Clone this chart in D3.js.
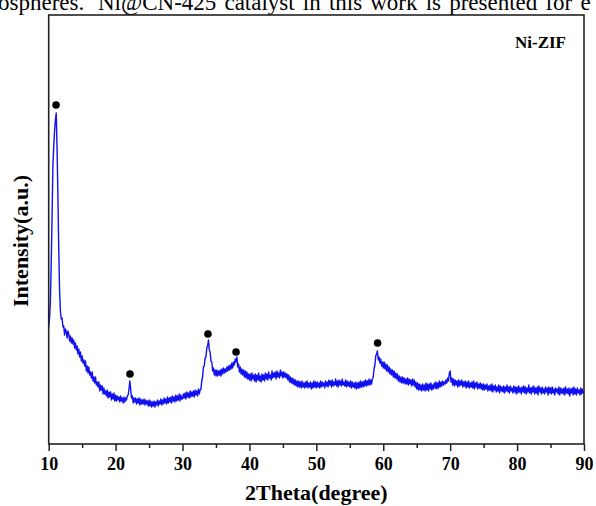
<!DOCTYPE html>
<html>
<head>
<meta charset="utf-8">
<script src="https://cdn.jsdelivr.net/npm/d3@7"></script>
<style>
  html, body { margin: 0; padding: 0; background: #fff; }
  svg { display: block; }
</style>
</head>
<body>
<script>
// XRD pattern of Ni-ZIF, one reading every 0.125 degrees from 10 to 90 (2θ)
const scanStart = 10;
const scanStep = 0.125;
const intensity = [
  // 10 – 14.875
  120, 129, 145, 183, 228, 281, 300, 316, 327, 334, 298, 252, 199, 157, 136, 128, 129, 120, 121, 112,
  118, 115, 109, 116, 113, 106, 111, 104, 109, 103, 107, 99, 104, 97, 101, 93, 98, 90, 95, 86,
  // 15 – 19.875
  91, 84, 87, 81, 86, 76, 81, 74, 80, 72, 75, 69, 75, 66, 70, 64, 70, 62, 65, 60,
  65, 56, 62, 57, 61, 53, 59, 53, 56, 51, 57, 49, 55, 50, 55, 47, 53, 48, 54, 46,
  // 20 – 24.875
  52, 46, 51, 47, 50, 45, 51, 46, 49, 44, 50, 45, 49, 47, 51, 52, 58, 66, 58, 49,
  51, 44, 49, 45, 49, 43, 48, 44, 49, 42, 48, 43, 47, 43, 48, 42, 47, 43, 46, 41,
  // 25 – 29.875
  47, 41, 46, 40, 45, 41, 46, 40, 45, 42, 47, 41, 46, 43, 48, 42, 47, 43, 49, 44,
  48, 43, 50, 44, 49, 45, 50, 44, 51, 46, 50, 45, 52, 46, 51, 47, 53, 46, 52, 48,
  // 30 – 34.875
  48, 53, 49, 54, 48, 55, 50, 54, 49, 56, 50, 55, 51, 56, 50, 57, 52, 56, 51, 58,
  53, 57, 58, 66, 70, 80, 81, 89, 90, 99, 101, 107, 97, 95, 86, 85, 76, 79, 72, 77,
  // 35 – 39.875
  71, 77, 71, 76, 72, 77, 71, 78, 73, 79, 74, 78, 75, 80, 76, 81, 77, 82, 78, 84,
  79, 85, 82, 88, 85, 90, 80, 83, 75, 80, 73, 78, 72, 77, 70, 76, 69, 75, 68, 73,
  // 40 – 44.875
  67, 73, 66, 74, 68, 72, 66, 73, 65, 72, 67, 74, 66, 71, 65, 73, 67, 72, 66, 74,
  68, 73, 67, 75, 69, 72, 67, 76, 69, 74, 70, 75, 68, 76, 70, 74, 69, 77, 71, 75,
  // 45 – 49.875
  69, 75, 70, 74, 69, 73, 67, 72, 65, 70, 64, 69, 63, 68, 62, 67, 61, 66, 60, 66,
  60, 65, 59, 66, 60, 64, 59, 65, 60, 66, 59, 64, 60, 65, 58, 64, 59, 66, 60, 65,
  // 50 – 54.875
  59, 65, 60, 64, 59, 66, 60, 65, 61, 64, 59, 66, 61, 65, 60, 67, 62, 66, 60, 67,
  61, 65, 62, 68, 61, 66, 60, 67, 62, 66, 61, 68, 62, 65, 61, 67, 60, 66, 61, 65,
  // 55 – 59.875
  60, 66, 59, 65, 60, 64, 59, 65, 58, 64, 59, 65, 59, 66, 60, 65, 60, 66, 61, 67,
  61, 66, 62, 68, 62, 67, 63, 68, 70, 78, 82, 91, 93, 96, 87, 90, 84, 88, 81, 85,
  // 60 – 64.875
  79, 85, 78, 83, 76, 82, 75, 80, 73, 78, 72, 77, 70, 76, 69, 74, 68, 73, 66, 71,
  65, 70, 64, 70, 64, 69, 63, 68, 63, 69, 62, 68, 63, 67, 61, 68, 62, 67, 60, 65,
  // 65 – 69.875
  58, 64, 57, 63, 57, 62, 56, 63, 57, 62, 56, 64, 57, 63, 56, 63, 58, 64, 57, 62,
  58, 64, 59, 65, 58, 64, 59, 66, 60, 65, 61, 66, 62, 65, 63, 67, 64, 69, 66, 74,
  // 70 – 74.875
  76, 65, 69, 62, 68, 61, 67, 62, 66, 60, 67, 61, 66, 62, 67, 60, 65, 61, 66, 59,
  65, 60, 66, 59, 64, 60, 65, 59, 66, 58, 64, 60, 65, 58, 63, 59, 64, 58, 63, 57,
  // 75 – 79.875
  63, 57, 62, 58, 63, 56, 61, 57, 62, 56, 63, 55, 61, 57, 62, 55, 60, 56, 62, 54,
  61, 56, 60, 55, 61, 54, 60, 56, 62, 55, 60, 54, 61, 56, 59, 54, 61, 55, 60, 53,
  // 80 – 84.875
  60, 54, 61, 55, 59, 53, 60, 55, 61, 54, 60, 53, 59, 55, 62, 54, 59, 53, 60, 55,
  61, 53, 59, 54, 60, 52, 61, 55, 59, 53, 60, 54, 58, 53, 60, 55, 59, 52, 60, 54,
  // 85 – 90
  59, 53, 60, 54, 58, 52, 59, 55, 58, 53, 60, 52, 59, 54, 58, 53, 59, 52, 60, 54,
  58, 53, 59, 51, 58, 54, 59, 52, 60, 53, 58, 52, 59, 54, 57, 52, 59, 53, 58, 54,
  56
];

// Reflections marked with a dot (2θ, marker height)
const peakTheta = [11.1, 22.15, 33.8, 38.0, 59.15];
const peakLevel = [342, 73, 113, 95, 104];

// Axis settings
const xDomain = [10, 90];
const yDomain = [3, 432];
const xMajorTicks = [10, 20, 30, 40, 50, 60, 70, 80, 90];
const xMinorTicks = [15, 25, 35, 45, 55, 65, 75, 85];

const sampleName = "Ni-ZIF";
const xTitle = "2Theta(degree)";
const yTitle = "Intensity(a.u.)";
const headerLine = ["ospheres.", "Ni@CN-425 catalyst in this work is presented for e"];

const W = 596, H = 506;
const plot = { left: 48.7, right: 584, top: 15, bottom: 444 };
const serif = "'Liberation Serif', 'Times New Roman', serif";

const svg = d3.select("body").append("svg")
  .attr("width", W).attr("height", H);

// Running text above the figure
svg.append("text")
  .attr("x", -2).attr("y", 10)
  .attr("font-family", serif).attr("font-size", 23)
  .text(headerLine[0]);
svg.append("text")
  .attr("x", 98).attr("y", 10)
  .attr("font-family", serif).attr("font-size", 23)
  .attr("word-spacing", 2.4)
  .text(headerLine[1]);

const x = d3.scaleLinear().domain(xDomain).range([plot.left, plot.right]);
const y = d3.scaleLinear().domain(yDomain).range([plot.bottom, plot.top]);

// Diffraction trace
const line = d3.line()
  .x((d, i) => x(scanStart + i * scanStep))
  .y(d => y(d));

svg.append("path")
  .datum(intensity)
  .attr("fill", "none")
  .attr("stroke", "#1010f0")
  .attr("stroke-width", 1.4)
  .attr("stroke-linejoin", "round")
  .attr("d", line);

// Peak markers
svg.append("g").selectAll("circle")
  .data(peakTheta)
  .join("circle")
  .attr("cx", d => x(d))
  .attr("cy", (d, i) => y(peakLevel[i]))
  .attr("r", 3.8)
  .attr("fill", "#000");

// Bottom axis: major and minor ticks
const xAxisMajor = d3.axisBottom(x).tickValues(xMajorTicks).tickSize(7).tickFormat(d3.format("d"));
const xAxisMinor = d3.axisBottom(x).tickValues(xMinorTicks).tickSize(4).tickFormat("");

const gMinor = svg.append("g").attr("transform", `translate(0,${plot.bottom})`).call(xAxisMinor);
gMinor.select(".domain").remove();
gMinor.selectAll("line").attr("stroke", "#222").attr("stroke-width", 1.5);

const gMajor = svg.append("g").attr("transform", `translate(0,${plot.bottom})`).call(xAxisMajor);
gMajor.select(".domain").remove();
gMajor.selectAll("line").attr("stroke", "#222").attr("stroke-width", 1.5);
gMajor.selectAll("text")
  .attr("font-family", serif)
  .attr("font-weight", "bold")
  .attr("font-size", 18)
  .attr("fill", "#000")
  .attr("dy", "0.71em")
  .attr("y", 13);

// Frame around the plot area
svg.append("rect")
  .attr("x", plot.left).attr("y", plot.top)
  .attr("width", plot.right - plot.left)
  .attr("height", plot.bottom - plot.top)
  .attr("fill", "none")
  .attr("stroke", "#222")
  .attr("stroke-width", 1.6);

// Axis titles
svg.append("text")
  .attr("x", (plot.left + plot.right) / 2)
  .attr("y", 500)
  .attr("text-anchor", "middle")
  .attr("font-family", serif).attr("font-weight", "bold").attr("font-size", 22)
  .text(xTitle);

svg.append("text")
  .attr("transform", `translate(28,241) rotate(-90)`)
  .attr("text-anchor", "middle")
  .attr("font-family", serif).attr("font-weight", "bold").attr("font-size", 22)
  .text(yTitle);

// Sample label
svg.append("text")
  .attr("x", 566).attr("y", 48)
  .attr("text-anchor", "end")
  .attr("font-family", serif).attr("font-weight", "bold").attr("font-size", 17)
  .text(sampleName);
</script>
</body>
</html>
